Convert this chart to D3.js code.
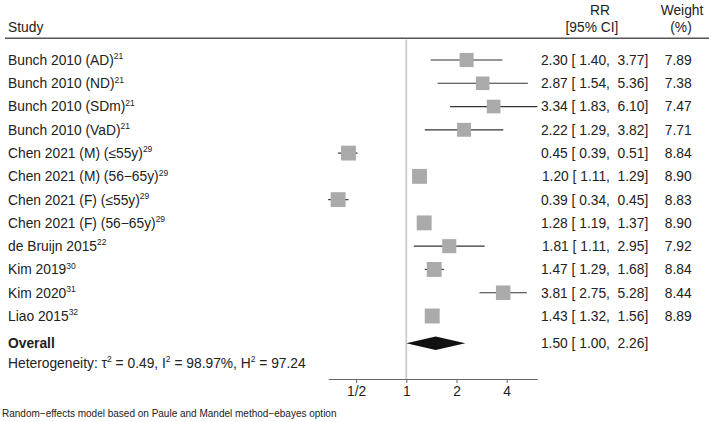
<!DOCTYPE html>
<html>
<head>
<meta charset="utf-8">
<script src="https://cdn.jsdelivr.net/npm/d3@7"></script>
<style>
  body { margin: 0; background: #fff; }
  text { font-family: "Liberation Sans", Arial, sans-serif; fill: #222; white-space: pre; }
</style>
</head>
<body>
<div id="chart"></div>
<script>
var width = 709,
    height = 422

var studies = ["Bunch 2010 (AD)", "Bunch 2010 (ND)", "Bunch 2010 (SDm)", "Bunch 2010 (VaD)",
    "Chen 2021 (M) (\u226455y)", "Chen 2021 (M) (56\u221265y)", "Chen 2021 (F) (\u226455y)",
    "Chen 2021 (F) (56\u221265y)", "de Bruijn 2015", "Kim 2019", "Kim 2020", "Liao 2015"]
var refs = ["21", "21", "21", "21", "29", "29", "29", "29", "22", "30", "31", "32"]
var rr = [2.30, 2.87, 3.34, 2.22, 0.45, 1.20, 0.39, 1.28, 1.81, 1.47, 3.81, 1.43]
var lower = [1.40, 1.54, 1.83, 1.29, 0.39, 1.11, 0.34, 1.19, 1.11, 1.29, 2.75, 1.32]
var upper = [3.77, 5.36, 6.10, 3.82, 0.51, 1.29, 0.45, 1.37, 2.95, 1.68, 5.28, 1.56]
var weights = [7.89, 7.38, 7.47, 7.71, 8.84, 8.90, 8.83, 8.90, 7.92, 8.84, 8.44, 8.89]
var overall = { rr: 1.50, lower: 1.00, upper: 2.26 }
var tickValues = [0.5, 1, 2, 4]
var tickLabels = ["1/2", "1", "2", "4"]

var f2 = d3.format(".2f")
function pad(v, n) { var s = f2(v); while (s.length < n) s = " " + s; return s }
function ciText(m, l, u) { return f2(m) + " [" + pad(l, 5) + ", " + pad(u, 5) + "]" }

var svg = d3.select('#chart').append('svg')
    .attr('width', width)
    .attr('height', height)

// log2 scale: 1 at 406.3, 50.2px per doubling
var lo = d3.min(lower), hi = d3.max(upper)
var x = d3.scaleLog().base(2)
    .domain([lo, hi])
    .range([406.3 + 50.2 * Math.log2(lo), 406.3 + 50.2 * Math.log2(hi)])

var y = d3.scalePoint()
    .domain(d3.range(studies.length))
    .range([60, 316])

var fs = 13.8, base = 4.9
var supFs = 8.5, supDy = -5.6
var axisY = 379

// header
svg.append('text').attr('x', 8).attr('y', 26.7 + base).attr('font-size', fs).text('Study')
svg.append('text').attr('x', 600).attr('y', 10 + base).attr('font-size', fs).attr('text-anchor', 'middle').text('RR')
svg.append('text').attr('x', 592).attr('y', 26.7 + base).attr('font-size', fs).attr('text-anchor', 'middle').text('[95% CI]')
svg.append('text').attr('x', 682).attr('y', 10 + base).attr('font-size', fs).attr('text-anchor', 'middle').text('Weight')
svg.append('text').attr('x', 681).attr('y', 26.7 + base).attr('font-size', fs).attr('text-anchor', 'middle').text('(%)')

svg.append('line')
    .attr('x1', 5).attr('x2', width)
    .attr('y1', 38.3).attr('y2', 38.3)
    .attr('stroke', '#555').attr('stroke-width', 1.6)

// null line
svg.append('line')
    .attr('x1', x(1)).attr('x2', x(1))
    .attr('y1', 39.5).attr('y2', axisY)
    .attr('stroke', '#c8c8c8').attr('stroke-width', 1.6)

var rows = svg.selectAll('g.row').data(studies)
    .enter().append('g')
        .attr('class', 'row')

var labels = rows.append('text')
    .attr('x', 8)
    .attr('y', function(d, i) { return y(i) + base })
    .attr('font-size', fs)
labels.append('tspan').text(function(d) { return d })
labels.append('tspan')
    .attr('font-size', supFs)
    .attr('dy', supDy)
    .text(function(d, i) { return refs[i] })

rows.append('line')
    .attr('x1', function(d, i) { return x(lower[i]) })
    .attr('x2', function(d, i) { return x(upper[i]) })
    .attr('y1', function(d, i) { return y(i) })
    .attr('y2', function(d, i) { return y(i) })
    .attr('stroke', '#333')
    .attr('stroke-width', 1.2)

rows.append('rect')
    .attr('x', function(d, i) { return x(rr[i]) - 2.5 * Math.sqrt(weights[i]) })
    .attr('y', function(d, i) { return y(i) - 2.5 * Math.sqrt(weights[i]) })
    .attr('width', function(d, i) { return 5 * Math.sqrt(weights[i]) })
    .attr('height', function(d, i) { return 5 * Math.sqrt(weights[i]) })
    .attr('fill', '#aaaaaa')

rows.append('text')
    .attr('x', 648.3)
    .attr('y', function(d, i) { return y(i) + base })
    .attr('font-size', fs)
    .attr('text-anchor', 'end')
    .text(function(d, i) { return ciText(rr[i], lower[i], upper[i]) })

rows.append('text')
    .attr('x', 691.7)
    .attr('y', function(d, i) { return y(i) + base })
    .attr('font-size', fs)
    .attr('text-anchor', 'end')
    .text(function(d, i) { return f2(weights[i]) })

// overall
var oy = 343.3
svg.append('text').attr('x', 8).attr('y', oy + base).attr('font-size', fs)
    .attr('font-weight', 'bold').text('Overall')
svg.append('path')
    .attr('d', 'M' + x(overall.lower) + ',' + oy +
        'L' + x(overall.rr) + ',' + (oy - 6.7) +
        'L' + x(overall.upper) + ',' + oy +
        'L' + x(overall.rr) + ',' + (oy + 6.7) + 'Z')
    .attr('fill', '#111')
svg.append('text').attr('x', 648.3).attr('y', oy + base).attr('font-size', fs)
    .attr('text-anchor', 'end')
    .text(ciText(overall.rr, overall.lower, overall.upper))

// heterogeneity
var het = svg.append('text').attr('x', 8).attr('y', 362.7 + base).attr('font-size', fs)
het.append('tspan').text('Heterogeneity: \u03c4')
het.append('tspan').attr('font-size', supFs).attr('dy', supDy).text('2')
het.append('tspan').attr('dy', -supDy).text(' = 0.49, I')
het.append('tspan').attr('font-size', supFs).attr('dy', supDy).text('2')
het.append('tspan').attr('dy', -supDy).text(' = 98.97%, H')
het.append('tspan').attr('font-size', supFs).attr('dy', supDy).text('2')
het.append('tspan').attr('dy', -supDy).text(' = 97.24')

// axis
var axis = svg.append('g')
    .attr('transform', 'translate(0,' + axisY + ')')
    .call(d3.axisBottom(x)
        .tickValues(tickValues)
        .tickFormat(function(d, i) { return tickLabels[i] })
        .tickSize(4)
        .tickSizeOuter(0))
axis.select('.domain').attr('stroke', '#666').attr('stroke-width', 1.2)
axis.selectAll('.tick line').attr('stroke', '#666')
axis.selectAll('.tick text')
    .attr('font-size', fs)
    .attr('font-family', '"Liberation Sans", Arial, sans-serif')
    .attr('fill', '#222')
    .attr('dy', null)
    .attr('y', 12 + base)

svg.append('text').attr('x', 2).attr('y', 417).attr('font-size', 10)
    .text('Random\u2212effects model based on Paule and Mandel method\u2212ebayes option')
</script>
</body>
</html>
